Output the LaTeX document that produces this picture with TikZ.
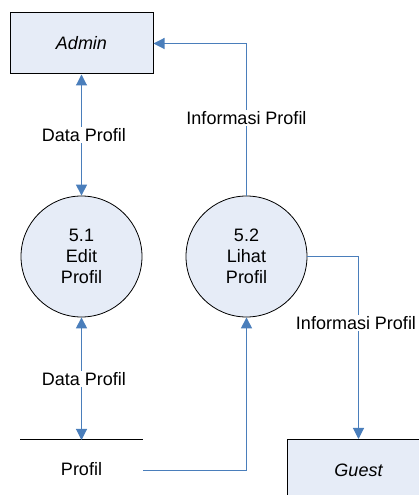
\documentclass[tikz,border=0pt]{standalone}
\usepackage{fontspec}
\setmainfont{Liberation Sans}
\usetikzlibrary{arrows.meta}
\definecolor{flowblue}{HTML}{4A7EBB}
\definecolor{boxfill}{HTML}{E6ECF7}
\newcommand\dfdfont{\fontsize{18}{21}\selectfont}
\tikzset{
  entity/.style={draw=black, line width=1pt, fill=boxfill, minimum width=143pt, minimum height=61pt, inner sep=0pt, font=\dfdfont\itshape},
  process/.style={draw=black, line width=0.8pt, fill=boxfill, circle, minimum size=121pt, inner sep=0pt, align=center},
  flow/.style={draw=flowblue, line width=1.1pt, -{Triangle[length=11pt,width=11pt]}},
  biflow/.style={draw=flowblue, line width=1.1pt, {Triangle[length=11pt,width=11pt]}-{Triangle[length=11pt,width=11pt]}},
  flowlabel/.style={fill=white, inner sep=1.5pt}
}
\begin{document}
\begin{tikzpicture}[x=1pt, y=1pt, font=\dfdfont]
\useasboundingbox (0,0) rectangle (419,495);
\clip (0,0) rectangle (419,495);

% external entities
\node[entity] (admin) at (81.5,451.5) {Admin};
\node[entity] (guest) at (358.5,25) {Guest};

% processes
\node[process] (p1) at (81.5,238.5) {5.1\\Edit\\Profil};
\node[process] (p2) at (246.5,238.5) {5.2\\Lihat\\Profil};

% data store
\coordinate (storeL) at (20,55);
\coordinate (storeR) at (143,55);
\coordinate (storetop) at (81.5,55);
\draw[line width=1pt] (storeL) -- (storeR);
\node (store) at (81.5,26) {Profil};
\coordinate (storeout) at (143,24.5);

% turning points
\coordinate (k1) at (246.5,451.5);
\coordinate (k2) at (358.5,238.5);
\coordinate (k3) at (246.5,24.5);

% flows
\draw[biflow] (admin.south) -- (p1.north);
\node[flowlabel] at (84,360) {Data Profil};

\draw[biflow] (p1.south) -- (storetop);
\node[flowlabel] at (84,116) {Data Profil};

\draw[flow] (p2.north) -- (k1) -- (admin.east);
\node[flowlabel] at (246.5,377) {Informasi Profil};

\draw[flow] (p2.east) -- (k2) -- (guest.north);
\node[flowlabel] at (356,172) {Informasi Profil};

\draw[flow] (storeout) -- (k3) -- (p2.south);
\end{tikzpicture}
\end{document}
